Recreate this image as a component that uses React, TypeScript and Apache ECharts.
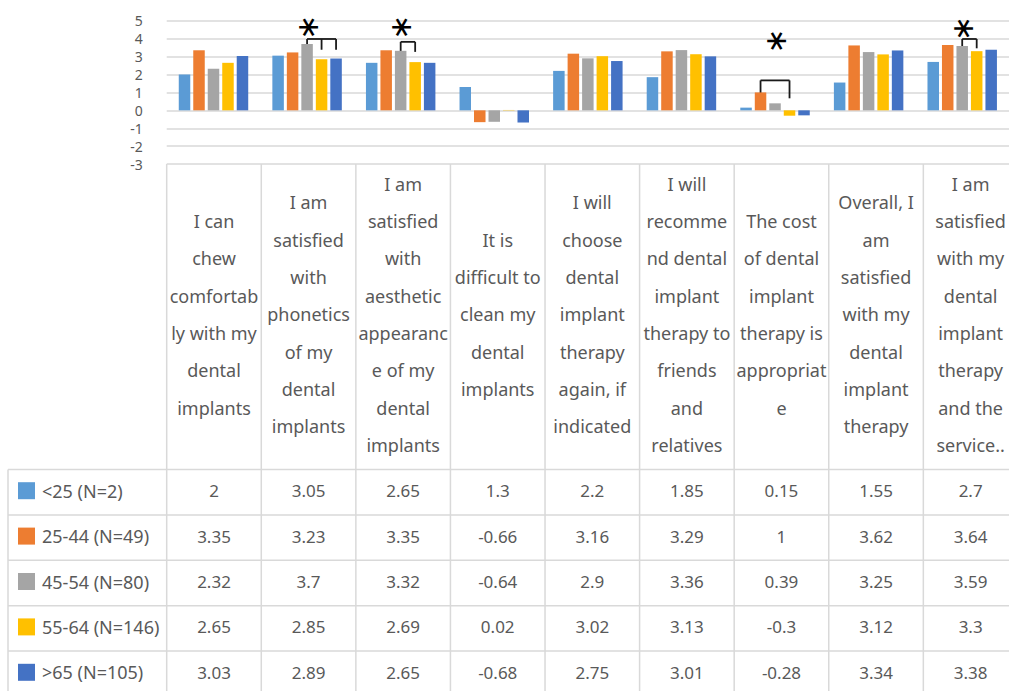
import React, { useEffect, useRef } from "react";
import * as echarts from "echarts";

// ---------- data ----------
const categories: string[][] = [
  ["I can", "chew", "comfortab", "ly with my", "dental", "implants"],
  ["I am", "satisfied", "with", "phonetics", "of my", "dental", "implants"],
  ["I am", "satisfied", "with", "aesthetic", "appearanc", "e of my", "dental", "implants"],
  ["It is", "difficult to", "clean my", "dental", "implants"],
  ["I will", "choose", "dental", "implant", "therapy", "again, if", "indicated"],
  ["I will", "recomme", "nd dental", "implant", "therapy to", "friends", "and", "relatives"],
  ["The cost", "of dental", "implant", "therapy is", "appropriat", "e"],
  ["Overall, I", "am", "satisfied", "with my", "dental", "implant", "therapy"],
  ["I am", "satisfied", "with my", "dental", "implant", "therapy", "and the", "service.."],
];

const seriesNames = ["<25 (N=2)", "25-44 (N=49)", "45-54 (N=80)", "55-64 (N=146)", ">65 (N=105)"];

const under25 = [2, 3.05, 2.65, 1.3, 2.2, 1.85, 0.15, 1.55, 2.7];
const age25to44 = [3.35, 3.23, 3.35, -0.66, 3.16, 3.29, 1, 3.62, 3.64];
const age45to54 = [2.32, 3.7, 3.32, -0.64, 2.9, 3.36, 0.39, 3.25, 3.59];
const age55to64 = [2.65, 2.85, 2.69, 0.02, 3.02, 3.13, -0.3, 3.12, 3.3];
const over65 = [3.03, 2.89, 2.65, -0.68, 2.75, 3.01, -0.28, 3.34, 3.38];

const yMin = -3;
const yMax = 5;
const yInterval = 1;

// significance annotations: category index, bars joined, bracket top value,
// leg end values, asterisk value
const sigMarks = [
  { cat: 1, bars: [2, 3, 4], top: 3.98, legEnds: [3.44, 3.38, 3.38], star: 4.62 },
  { cat: 2, bars: [2, 3], top: 3.82, legEnds: [3.26, 3.26], star: 4.62 },
  { cat: 6, bars: [1, 3], top: 1.67, legEnds: [0.67, 0.67], star: 3.86 },
  { cat: 8, bars: [2, 3], top: 3.98, legEnds: [3.46, 3.46], star: 4.55 },
];

// ---------- style / layout ----------
const colors = ["#5B9BD5", "#ED7D31", "#A5A5A5", "#FFC000", "#4472C4"];
const TEXT = "#595959";
const LINE = "#d9d9d9";
const FONT = "Noto Sans";

const W = 1009;
const H = 691;
const GRID_LEFT = 166.7;
const COL_W = 94.58;
const GRID_TOP = 20.7;
const GRID_H = 143.4;
const BAR_W = 11.5;
const BAR_GAP = 0.26;
const CAT_TOP = GRID_TOP + GRID_H;
const CAT_BOTTOM = 469.5;
const ROW_H = 45.4;
const TABLE_LEFT = 8;
const LABEL_LINE_H = 37.3;

export default function App() {
  const ref = useRef<HTMLDivElement>(null);

  useEffect(() => {
    const el = ref.current!;
    const chart = echarts.init(el, null, { renderer: "svg" });
    const seriesData = [under25, age25to44, age45to54, age55to64, over65];
    const nCat = categories.length;
    const tableRight = GRID_LEFT + COL_W * nCat;

    chart.setOption({
      animation: false,
      backgroundColor: "#ffffff",
      grid: { left: GRID_LEFT, top: GRID_TOP, width: COL_W * nCat, height: GRID_H },
      xAxis: {
        type: "category",
        data: categories.map((c) => c.join(" ")),
        axisLabel: { show: false },
        axisLine: { show: false },
        axisTick: { show: false },
      },
      yAxis: {
        type: "value",
        min: yMin,
        max: yMax,
        interval: yInterval,
        axisLabel: { color: TEXT, fontSize: 14, margin: 24, fontFamily: FONT },
        axisLine: { show: false },
        axisTick: { show: false },
        splitLine: { lineStyle: { color: LINE, width: 1.5 } },
      },
      series: seriesNames.map((name, i) => ({
        type: "bar",
        name,
        data: seriesData[i],
        barWidth: BAR_W,
        barGap: BAR_GAP * 100 + "%",
        itemStyle: { color: colors[i] },
      })),
    });

    const toPx = (cat: number, v: number) =>
      chart.convertToPixel({ gridIndex: 0 }, [cat, v]) as number[];
    const nSeries = seriesNames.length;
    const barOffset = (s: number) => (s - (nSeries - 1) / 2) * BAR_W * (1 + BAR_GAP);

    const g: any[] = [];
    const line = (x1: number, y1: number, x2: number, y2: number, stroke = LINE, lw = 1.5) =>
      g.push({ type: "line", silent: true, shape: { x1, y1, x2, y2 }, style: { stroke, lineWidth: lw } });

    // table horizontal lines
    for (let r = 0; r <= nSeries; r++) {
      const y = CAT_BOTTOM + r * ROW_H;
      line(TABLE_LEFT, y, tableRight, y);
    }
    // table vertical lines
    for (let k = 0; k <= nCat; k++) {
      const x = GRID_LEFT + k * COL_W;
      line(x, CAT_TOP, x, H + 10);
    }
    line(TABLE_LEFT, CAT_BOTTOM, TABLE_LEFT, H + 10);

    // category labels
    const catMid = (CAT_TOP + CAT_BOTTOM) / 2 - 2.5;
    categories.forEach((lines, k) => {
      g.push({
        type: "text",
        silent: true,
        x: GRID_LEFT + (k + 0.5) * COL_W,
        y: catMid,
        style: {
          text: lines.join("\n"),
          fill: TEXT,
          fontSize: 18,
          fontFamily: FONT,
          lineHeight: LABEL_LINE_H,
          align: "center",
          verticalAlign: "middle",
        },
      });
    });

    // data rows
    seriesNames.forEach((name, s) => {
      const yc = CAT_BOTTOM + (s + 0.5) * ROW_H - 1.5;
      g.push({
        type: "rect",
        silent: true,
        shape: { x: 18, y: yc - 8.5, width: 17, height: 17 },
        style: { fill: colors[s] },
      });
      g.push({
        type: "text",
        silent: true,
        x: 42,
        y: yc,
        style: { text: name, fill: TEXT, fontSize: 18, fontFamily: FONT, align: "left", verticalAlign: "middle" },
      });
      seriesData[s].forEach((v, k) => {
        g.push({
          type: "text",
          silent: true,
          x: GRID_LEFT + (k + 0.5) * COL_W,
          y: yc,
          style: { text: String(v), fill: TEXT, fontSize: 17, fontFamily: FONT, align: "center", verticalAlign: "middle" },
        });
      });
    });

    // significance brackets and asterisks
    sigMarks.forEach((m) => {
      const xs = m.bars.map((b) => toPx(m.cat, 0)[0] + barOffset(b));
      const yTop = toPx(m.cat, m.top)[1];
      line(xs[0], yTop, xs[xs.length - 1], yTop, "#1a1a1a", 1.8);
      xs.forEach((x, i) => line(x, yTop, x, toPx(m.cat, m.legEnds[i])[1], "#1a1a1a", 1.8));
      const starX = toPx(m.cat, 0)[0] + barOffset(2);
      const starY = toPx(m.cat, m.star)[1];
      g.push({
        type: "text",
        silent: true,
        x: starX,
        y: starY,
        rotation: Math.PI / 2,
        style: { text: "∗", fill: "#000", fontSize: 30, fontFamily: "DejaVu Sans", align: "center", verticalAlign: "middle" },
      });
    });

    chart.setOption({ graphic: g });
    return () => chart.dispose();
  }, []);

  return (
    <div
      ref={ref}
      style={{ position: "absolute", left: 0, top: 0, width: W, height: H, background: "#fff" }}
    />
  );
}
